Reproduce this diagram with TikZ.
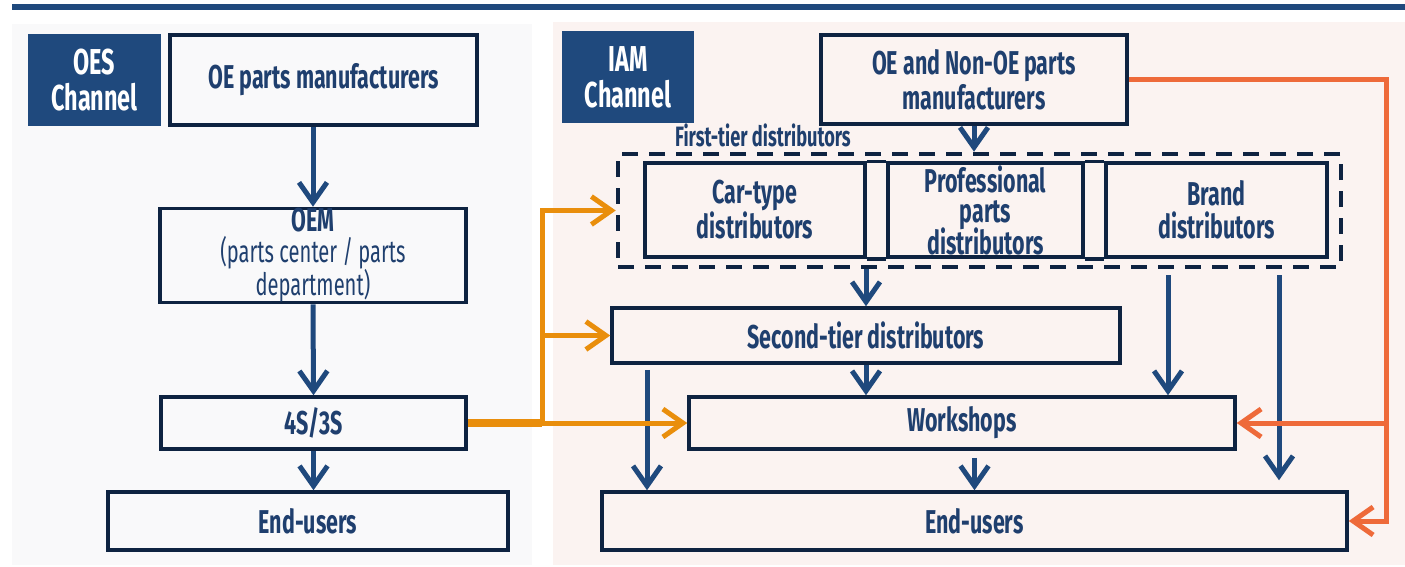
\documentclass[tikz,border=0pt]{standalone}
\usepackage{fontspec}
\setmainfont{Fira Sans}[FakeStretch=0.65]
\usetikzlibrary{arrows.meta}

\definecolor{barblue}{HTML}{1F497D}
\definecolor{boxline}{HTML}{0E2341}
\definecolor{txtblue}{HTML}{1F3F6E}
\definecolor{lpanel}{HTML}{F9F9FA}
\definecolor{rpanel}{HTML}{FBF3F1}
\definecolor{oesorange}{HTML}{E98E0C}
\definecolor{iamorange}{HTML}{EE6A3A}

\newcommand\boxfont{\fontsize{33}{33}\selectfont\bfseries}
\newcommand\oemsub{\fontsize{31}{29}\selectfont\mdseries}

\begin{document}
\begin{tikzpicture}[
    x=1pt, y=-1pt,
    box/.style={draw=boxline, line width=3.5pt, text=txtblue, font=\boxfont,
        align=center, inner sep=0pt},
    tag/.style={fill=barblue, text=white, font=\fontsize{36}{36}\selectfont\bfseries,
        align=center, inner sep=0pt},
    lbl/.style={text=txtblue, font=\fontsize{28}{28}\selectfont\bfseries, inner sep=0pt},
    barrow/.style={draw=barblue, line width=5pt,
        -{Straight Barb[length=20pt, width=28pt]}},
    oarrow/.style={draw=oesorange, line width=5pt,
        -{Straight Barb[length=20pt, width=28pt]}},
    rarrow/.style={draw=iamorange, line width=5pt,
        -{Straight Barb[length=20pt, width=28pt]}},
]
\useasboundingbox (0,0) rectangle (1405,566);

% panels and top rule
\fill[lpanel] (12,24) rectangle (532,565);
\fill[rpanel] (553,22) rectangle (1405,565);
\fill[barblue] (12,4) rectangle (1405,9.5);

% OES channel
\node[tag, minimum width=133, minimum height=92] (oestag) at (94.5,80) {OES\\Channel};
\node[box, minimum width=307, minimum height=90] (oepm) at (323.5,80)
    {OE parts manufacturers};
\node[box, minimum width=306, minimum height=91] (oem) at (313,255.5)
    {OEM\\[-2pt]{\oemsub(parts center / parts}\\{\oemsub department)}};
\node[box, minimum width=305, minimum height=52] (fours) at (313.5,423) {4S/3S};
\node[box, minimum width=400, minimum height=58] (endl) at (308,521) {End-users};

% IAM channel
\node[tag, minimum width=132, minimum height=92] (iamtag) at (628,77) {IAM\\Channel};
\node[box, minimum width=306, minimum height=89] (oenon) at (974,79.5)
    {OE and Non-OE parts\\[2pt]manufacturers};

% first-tier group
\node[draw=boxline, line width=4.5pt, dash pattern=on 16pt off 11pt,
    minimum width=723, minimum height=113] (ftier) at (979.5,210.5) {};
\node[lbl, anchor=west] (ftlbl) at (675,135) {First-tier distributors};
\node[box, minimum width=220, minimum height=94] (cartype) at (755,210)
    {Car-type\\distributors};
\node[box, minimum width=195, minimum height=94] (prof) at (985.5,210)
    {Professional\\[-3pt]parts\\[-3pt]distributors};
\node[box, minimum width=221, minimum height=94] (brand) at (1216.5,210)
    {Brand\\distributors};
\draw[boxline, line width=3.5pt] (cartype.north east) -- (prof.north west)
    (cartype.south east) -- (prof.south west)
    (prof.north east) -- (brand.north west)
    (prof.south east) -- (brand.south west);

\node[box, minimum width=508, minimum height=55] (second) at (866,335.5)
    {Second-tier distributors};
\node[box, minimum width=546, minimum height=52] (work) at (962,423) {Workshops};
\node[box, minimum width=745, minimum height=58] (endr) at (974.5,521) {End-users};

% blue flows
\coordinate (secA) at (647,0);
\coordinate (brandA) at (1168,0);
\coordinate (brandB) at (1279,0);
\draw[barrow] (oem.north |- oepm.south) -- (oem.north);
\draw[barrow] (oem.south) -- (fours.north);
\draw[barrow] (fours.south) -- (fours.south |- endl.north);
\draw[barrow] (oenon.south) -- (oenon.south |- ftier.north);
\draw[barrow] (second.north |- ftier.south) -- (second.north);
\draw[barrow] (second.south) -- (second.south |- work.north);
\draw[barrow, shorten <=5pt] (second.south -| secA) -- (endr.north -| secA);
\draw[barrow, shorten <=6pt] (ftier.south -| brandA) -- (work.north -| brandA);
\draw[barrow, shorten <=6pt, shorten >=10pt] (ftier.south -| brandB) -- (endr.north -| brandB);
\draw[barrow, shorten <=7pt] (endr.north |- work.south) -- (endr.north);

% orange flows from 4S/3S
\coordinate (ojoin) at (542,0);
\draw[oesorange, line width=8pt] (fours.east) -- (fours.east -| ojoin);
\draw[oarrow] (fours.east -| ojoin) -- (work.west);
\draw[oarrow] (fours.east -| ojoin) |- (ftier.west);
\draw[oarrow] (second.west -| ojoin) -- (second.west);

% orange-red flows from OE and Non-OE manufacturers
\coordinate (rjoin) at (1386,0);
\draw[rarrow] (oenon.east) -| (rjoin |- endr.east) -- (endr.east);
\draw[rarrow] (rjoin |- work.east) -- (work.east);

\end{tikzpicture}
\end{document}
